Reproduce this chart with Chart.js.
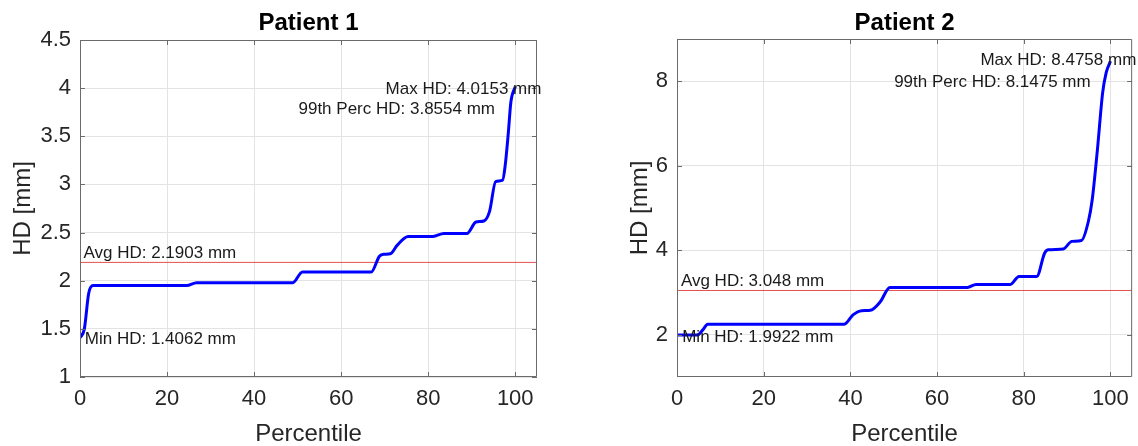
<!DOCTYPE html>
<html lang="en">
<head>
    <meta charset="UTF-8">
    <title>HD percentile curves</title>
    <script src="https://cdn.jsdelivr.net/npm/chart.js"></script>
    <style>
        body {
            margin: 0;
            padding: 0;
            background-color: #ffffff;
            width: 1138px;
            height: 446px;
            overflow: hidden;
            position: relative;
        }
        canvas {
            position: absolute;
            top: 0;
        }
        #chart-p1 { left: 0; }
        #chart-p2 { left: 597px; }
    </style>
</head>
<body>
    <canvas id="chart-p1" width="560" height="446"></canvas>
    <canvas id="chart-p2" width="541" height="446"></canvas>

    <script>
        // Patient 1: sorted Hausdorff distances vs percentile
        const p1Pct = [0, 1, 2, 3, 24.5, 26.8, 48.9, 51.1, 66.9, 68.8, 69.8, 71.3, 72.9, 75.4, 81.1, 83.6, 88.9, 91.0, 92.8, 94.1, 95.5, 97.1, 97.7, 98.4, 99.0, 100];
        const p1HD = [1.4062, 1.50, 1.87, 1.95, 1.95, 1.98, 1.98, 2.09, 2.09, 2.255, 2.275, 2.28, 2.37, 2.46, 2.46, 2.49, 2.49, 2.61, 2.62, 2.72, 3.03, 3.045, 3.2, 3.53, 3.8554, 4.0153];
        const p1Avg = 2.1903;

        // Patient 2
        const p2Pct = [0, 4.7, 5.9, 7.1, 38.6, 40.6, 42.6, 44.6, 46.9, 49.1, 67.0, 69.0, 76.9, 78.9, 83.0, 84.8, 85.6, 89.1, 91.1, 93.3, 94.9, 95.8, 97.0, 98.2, 99.0, 100];
        const p2HD = [1.9922, 1.9922, 2.11, 2.25, 2.25, 2.47, 2.57, 2.58, 2.78, 3.12, 3.12, 3.19, 3.19, 3.38, 3.38, 3.93, 4.01, 4.03, 4.21, 4.23, 4.68, 5.2, 6.39, 7.73, 8.2, 8.4758];
        const p2Avg = 3.048;

        // tick labels
        const xTicks = [0, 20, 40, 60, 80, 100];
        const p1YTicks = [1, 1.5, 2, 2.5, 3, 3.5, 4, 4.5];
        const p2YTicks = [2, 4, 6, 8];

        // text notes
        const p1NoteText = ['Max HD: 4.0153 mm', '99th Perc HD: 3.8554 mm', 'Avg HD: 2.1903 mm', 'Min HD: 1.4062 mm'];
        const p1NoteX = [70.2, 50.2, 0.8, 1.1];
        const p1NoteY = [3.99, 3.78, 2.285, 1.39];
        const p2NoteText = ['Max HD: 8.4758 mm', '99th Perc HD: 8.1475 mm', 'Avg HD: 3.048 mm', 'Min HD: 1.9922 mm'];
        const p2NoteX = [70.0, 50.1, 0.9, 1.2];
        const p2NoteY = [8.485, 7.986, 3.258, 1.95];

        const FONT = "'Liberation Sans', Arial, sans-serif";
        const TEXT_COLOR = '#262626';

        // box + inward tick marks, title and text notes
        const matlabAxes = {
            id: 'matlabAxes',
            afterDraw(chart, args, opts) {
                const ctx = chart.ctx;
                const a = chart.chartArea;
                const xs = chart.scales.x;
                const ys = chart.scales.y;
                const tl = 5;
                ctx.save();
                ctx.strokeStyle = '#6b6b6b';
                ctx.lineWidth = 1;
                ctx.beginPath();
                ctx.rect(a.left + 0.5, a.top + 0.5, a.right - a.left - 1, a.bottom - a.top - 1);
                xs.ticks.forEach(t => {
                    const px = Math.round(xs.getPixelForValue(t.value)) + 0.5;
                    ctx.moveTo(px, a.bottom); ctx.lineTo(px, a.bottom - tl);
                    ctx.moveTo(px, a.top); ctx.lineTo(px, a.top + tl);
                });
                ys.ticks.forEach(t => {
                    const py = Math.round(ys.getPixelForValue(t.value)) + 0.5;
                    ctx.moveTo(a.left, py); ctx.lineTo(a.left + tl, py);
                    ctx.moveTo(a.right, py); ctx.lineTo(a.right - tl, py);
                });
                ctx.stroke();

                ctx.fillStyle = '#000000';
                ctx.textAlign = 'center';
                ctx.textBaseline = 'middle';
                ctx.font = 'bold 24px ' + FONT;
                ctx.fillText(opts.title, (a.left + a.right) / 2, 23);

                ctx.fillStyle = '#1a1a1a';
                ctx.textAlign = 'left';
                ctx.font = '17px ' + FONT;
                opts.noteText.forEach((txt, i) => {
                    ctx.fillText(txt, xs.getPixelForValue(opts.noteX[i]), ys.getPixelForValue(opts.noteY[i]));
                });
                ctx.restore();
            }
        };

        function makeChart(id, pct, hd, avg, yMin, yMax, yTicks, yTitlePad, top, rightPad, title, noteText, noteX, noteY) {
            const ctx = document.getElementById(id).getContext('2d');
            return new Chart(ctx, {
                type: 'line',
                data: {
                    datasets: [{
                        label: 'HD',
                        data: pct.map((p, i) => ({ x: p, y: hd[i] })),
                        borderColor: '#0000ff',
                        borderWidth: 3,
                        pointRadius: 0,
                        cubicInterpolationMode: 'monotone'
                    }, {
                        label: 'Avg',
                        data: [{ x: 0, y: avg }, { x: 105, y: avg }],
                        borderColor: 'rgba(222, 50, 50, 0.85)',
                        borderWidth: 1,
                        pointRadius: 0
                    }]
                },
                options: {
                    responsive: false,
                    animation: false,
                    devicePixelRatio: 1,
                    layout: { padding: { top: top, right: rightPad, left: 0, bottom: 0 } },
                    plugins: {
                        legend: { display: false },
                        tooltip: { enabled: false },
                        matlabAxes: { title: title, noteText: noteText, noteX: noteX, noteY: noteY }
                    },
                    scales: {
                        x: {
                            type: 'linear',
                            min: 0,
                            max: 105,
                            afterBuildTicks: s => { s.ticks = xTicks.map(v => ({ value: v })); },
                            afterFit: s => { s.height = 446 - 377; },
                            grid: { color: '#e3e3e3', drawTicks: false },
                            border: { display: false },
                            ticks: {
                                padding: 9,
                                color: TEXT_COLOR,
                                font: { family: FONT, size: 22 },
                                maxRotation: 0,
                                callback: v => String(v)
                            },
                            title: {
                                display: true,
                                text: 'Percentile',
                                color: TEXT_COLOR,
                                font: { family: FONT, size: 24 },
                                padding: { top: 0, bottom: -3 }
                            }
                        },
                        y: {
                            type: 'linear',
                            min: yMin,
                            max: yMax,
                            afterBuildTicks: s => { s.ticks = yTicks.map(v => ({ value: v })); },
                            afterFit: s => { s.width = 80; },
                            grid: { color: '#e3e3e3', drawTicks: false },
                            border: { display: false },
                            ticks: {
                                padding: 9,
                                color: TEXT_COLOR,
                                font: { family: FONT, size: 22 },
                                callback: v => String(v)
                            },
                            title: {
                                display: true,
                                text: 'HD [mm]',
                                color: TEXT_COLOR,
                                font: { family: FONT, size: 24 },
                                padding: { top: yTitlePad, bottom: 0 }
                            }
                        }
                    }
                },
                plugins: [matlabAxes]
            });
        }

        makeChart('chart-p1', p1Pct, p1HD, p1Avg, 1, 4.5, p1YTicks, 9, 40, 23, 'Patient 1', p1NoteText, p1NoteX, p1NoteY);
        makeChart('chart-p2', p2Pct, p2HD, p2Avg, 1, 9, p2YTicks, 29, 39, 4, 'Patient 2', p2NoteText, p2NoteX, p2NoteY);
    </script>
</body>
</html>
